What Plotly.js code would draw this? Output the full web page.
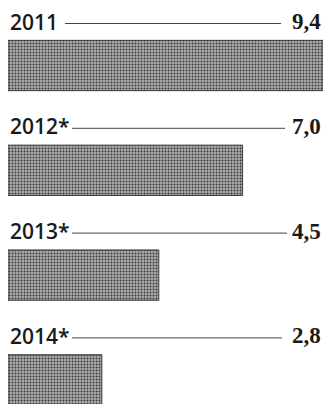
<!DOCTYPE html>
<html><head><meta charset="utf-8">
<script src="https://cdn.plot.ly/plotly-3.0.1.min.js"></script>
<style>html,body{margin:0;padding:0;background:#fff;}#chart{width:326px;height:404px;}</style>
</head><body><div id="chart"></div>
<script>
const years = ['2011', '2012*', '2013*', '2014*'];
const values = [9.4, 7.0, 4.5, 2.8];
const valueLabels = ['9,4', '7,0', '4,5', '2,8'];

const idx = years.map((_, i) => i);
const lineStarts = [65, 72, 72, 72];
const lineEnds = [281, 285, 287, 282];

const trace = {
  type: 'bar', orientation: 'h',
  x: values, y: idx, width: 0.48,
  marker: {
    color: '#9c9c9c',
    pattern: {shape: '.', fgcolor: '#3a3a3a', bgcolor: '#acacac', size: 3, solidity: 0.35, fillmode: 'replace'},
    line: {color: '#3a3a3a', width: 1}
  },
  hoverinfo: 'skip'
};

const annotations = [];
const shapes = [];
years.forEach((yr, i) => {
  annotations.push({xref: 'paper', yref: 'y', x: 0, y: i, xanchor: 'left', yanchor: 'middle', yshift: 44,
    text: yr, showarrow: false, font: {family: 'Open Sans', size: 21, color: '#1a1a1a', weight: 600}});
  annotations.push({xref: 'paper', yref: 'y', x: 1, y: i, xanchor: 'right', yanchor: 'middle', yshift: 44,
    text: valueLabels[i], showarrow: false, font: {family: 'Liberation Serif', size: 23, color: '#1a1a1a', weight: 700}});
  shapes.push({type: 'line', xref: 'x domain', yref: 'y', xsizemode: 'pixel', ysizemode: 'pixel', xanchor: 0, yanchor: i,
    x0: lineStarts[i] - 8, x1: lineEnds[i] - 8, y0: 42, y1: 42, line: {color: '#444', width: 1}});
});

const layout = {
  width: 326, height: 404,
  margin: {l: 8, r: 3, t: 0, b: 0},
  paper_bgcolor: '#fff', plot_bgcolor: '#fff',
  showlegend: false,
  xaxis: {range: [0, 9.4], visible: false, fixedrange: true},
  yaxis: {range: [3.23, -0.625], visible: false, fixedrange: true},
  annotations: annotations, shapes: shapes
};
Plotly.newPlot('chart', [trace], layout, {displayModeBar: false, staticPlot: true});
</script></body></html>
